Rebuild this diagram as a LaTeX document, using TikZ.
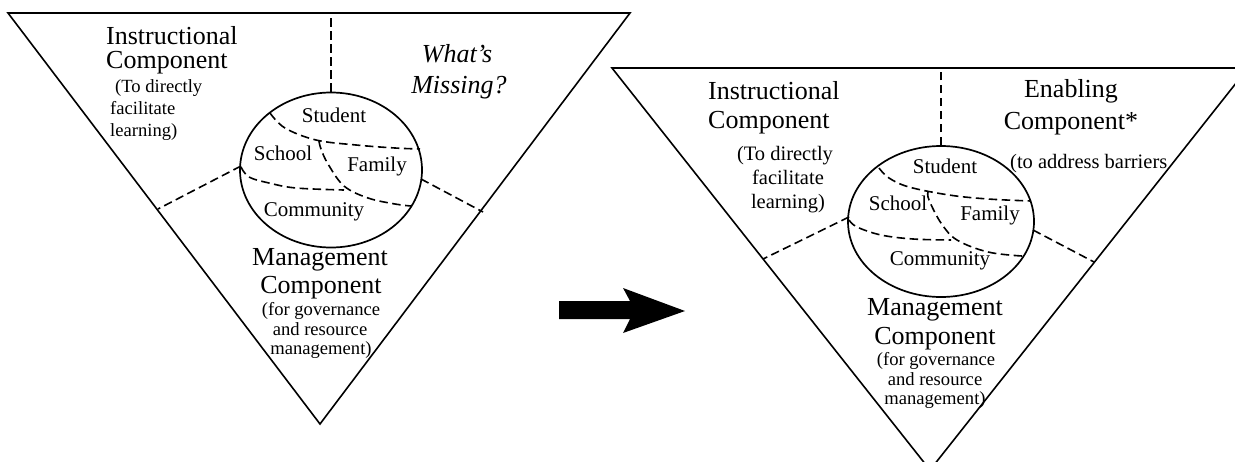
\documentclass[tikz,border=0pt]{standalone}
\usepackage{fontspec}
\setmainfont{Liberation Serif}
\usetikzlibrary{shapes.geometric}
\begin{document}
\begin{tikzpicture}[x=1pt,y=-1pt,
  edge/.style={line width=1.6pt,line join=miter},
  dsh/.style={line width=1.6pt,dash pattern=on 8.5pt off 4.5pt},
  ring/.style={draw,ellipse,line width=1.7pt,inner sep=0pt},
  big/.style={font=\fontsize{26}{26}\selectfont,inner sep=0pt,anchor=base},
  bigit/.style={font=\fontsize{26}{26}\selectfont\itshape,inner sep=0pt,anchor=base},
  mid/.style={font=\fontsize{21}{21}\selectfont,inner sep=0pt,anchor=base},
  sml/.style={font=\fontsize{18.6}{18.6}\selectfont,inner sep=0pt,anchor=base},
  smr/.style={font=\fontsize{20.5}{20.5}\selectfont,inner sep=0pt,anchor=base},
  arr/.style={fill=black}]
\useasboundingbox (0,0) rectangle (1235,461);
\clip (0,0) rectangle (1235,461);
% ---------------- left diagram ----------------
\coordinate (La) at (8,13);
\coordinate (Lb) at (630,13);
\coordinate (Lc) at (320,424);
\draw[edge] (La) -- (Lb) -- (Lc) -- cycle;
\node[ring,minimum width=182pt,minimum height=155pt] (Lring) at (331,170) {};
\coordinate (Ltop) at (331,13);
\coordinate (Lle) at (241,166);
\coordinate (Lre) at (421,179);
\coordinate (Llw) at (158,209);
\coordinate (Lrw) at (483,212);
\draw[dsh] (Lring.north) -- (Ltop);
\draw[dsh] (Lle) -- (Llw);
\draw[dsh] (Lre) -- (Lrw);
\draw[dsh] plot[smooth,tension=0.6] coordinates {(270,113) (285,128) (316,140) (356,145) (395,148) (420,149)};
\draw[dsh] plot[smooth,tension=0.6] coordinates {(319,141) (321,149) (328,164) (344,186) (368,198) (395,204) (411,206)};
\draw[dsh] plot[smooth,tension=0.6] coordinates {(241,167) (249,177) (269,183) (296,188) (344,190)};
\node[big,anchor=base west] (L1) at (106,44) {Instructional};
\node[big,anchor=base west] (L2) at (106,68) {Component};
\node[sml,anchor=base west] (L3) at (115,92) {(To directly};
\node[sml,anchor=base west] (L4) at (110,114) {facilitate};
\node[sml,anchor=base west] (L5) at (110,136) {learning)};
\node[bigit] (L6) at (457,62) {What’s};
\node[bigit] (L7) at (459,93) {Missing?};
\node[mid] (L8) at (334,122) {Student};
\node[mid] (L9) at (283,160) {School};
\node[mid] (L10) at (377,171) {Family};
\node[mid] (L11) at (314,216) {Community};
\node[big] (L12) at (320,265) {Management};
\node[big] (L13) at (321,293) {Component};
\node[sml] (L14) at (321,315) {(for governance};
\node[sml] (L15) at (320,335) {and resource};
\node[sml] (L16) at (321,354) {management)};
% ---------------- arrow ----------------
\fill[arr] (559,301) -- (630,301) -- (623,288) -- (685,311) -- (623,333) -- (630,319) -- (559,319) -- cycle;
% ---------------- right diagram ----------------
\coordinate (Ra) at (612,68);
\coordinate (Rb) at (1248,68);
\coordinate (Rc) at (930,470);
\draw[edge] (Ra) -- (Rb) -- (Rc) -- cycle;
\node[ring,minimum width=186pt,minimum height=151pt] (Rring) at (941,221.5) {};
\coordinate (Rtop) at (941,68);
\coordinate (Rle) at (849,217);
\coordinate (Rre) at (1033,230);
\coordinate (Rlw) at (763,259);
\coordinate (Rrw) at (1094,262);
\draw[dsh] (Rring.north) -- (Rtop);
\draw[dsh] (Rle) -- (Rlw);
\draw[dsh] (Rre) -- (Rrw);
\draw[dsh] plot[smooth,tension=0.6] coordinates {(879,168) (889,178) (909,187) (949,195) (988,199) (1031,201)};
\draw[dsh] plot[smooth,tension=0.6] coordinates {(928,192) (929,200) (941,223) (957,240) (988,252) (1022,256)};
\draw[dsh] plot[smooth,tension=0.6] coordinates {(849,220) (857,227) (881,235) (913,239) (951,240)};
\node[big,anchor=base west] (R1) at (708,99) {Instructional};
\node[big,anchor=base west] (R2) at (708,128) {Component};
\node[smr] (R3) at (785,160) {(To directly};
\node[smr] (R4) at (788,184) {facilitate};
\node[smr] (R5) at (788,208) {learning)};
\node[big] (R6) at (1071,97) {Enabling};
\node[big] (R7) at (1071,129) {Component*};
\node[smr,anchor=base west] (R8) at (1010,168) {(to address barriers};
\node[mid] (R9) at (945,173) {Student};
\node[mid] (R10) at (898,210) {School};
\node[mid] (R11) at (990,220) {Family};
\node[mid] (R12) at (940,265) {Community};
\node[big] (R13) at (935,315) {Management};
\node[big] (R14) at (935,344) {Component};
\node[sml] (R15) at (936,365) {(for governance};
\node[sml] (R16) at (935,385) {and resource};
\node[sml] (R17) at (935,404) {management)};
\end{tikzpicture}
\end{document}
